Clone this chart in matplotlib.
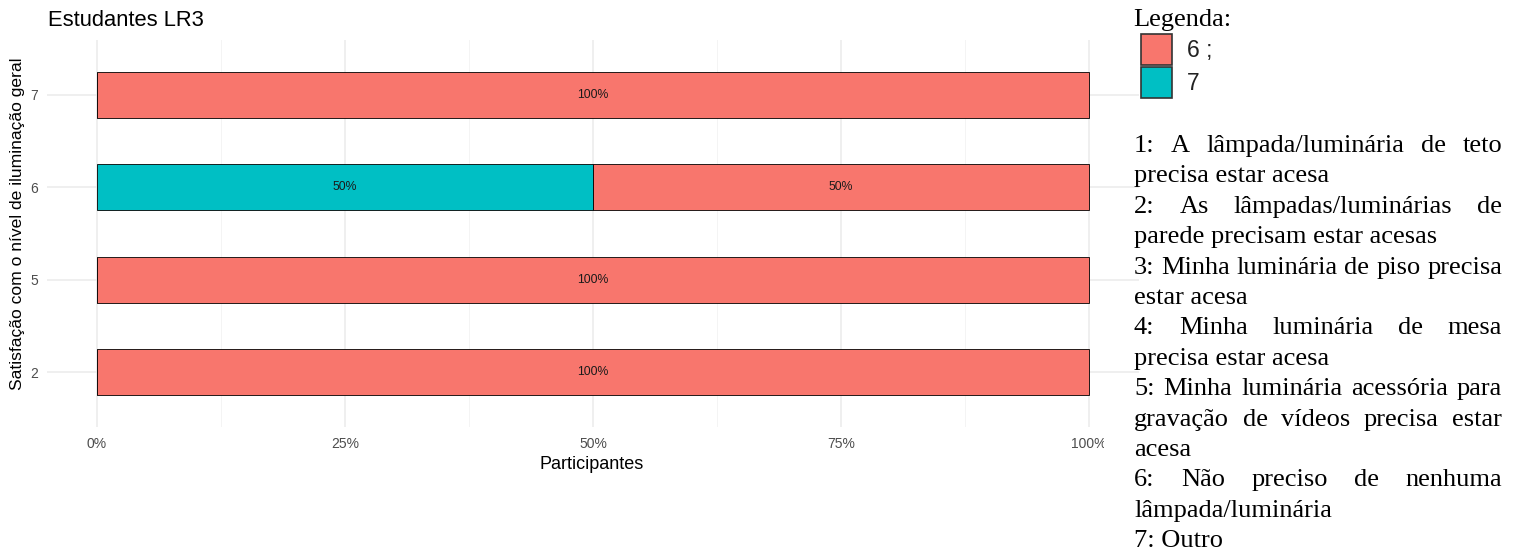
import numpy as np
import matplotlib.pyplot as plt
from matplotlib.patches import Rectangle
from matplotlib.transforms import Bbox

# data
categories = ['2', '5', '6', '7']
serie6 = [1.0, 1.0, 0.5, 1.0]   # "6 ;"
serie7 = [0.0, 0.0, 0.5, 0.0]   # "7"
legend_labels = ['6 ;', '7']
colors = ['#F8766D', '#00BFC4']
xticks = [0, 0.25, 0.5, 0.75, 1.0]
xtick_labels = ['0%', '25%', '50%', '75%', '100%']

notes = [
    ['1: A lâmpada/luminária de teto', 'precisa estar acesa'],
    ['2: As lâmpadas/luminárias de', 'parede precisam estar acesas'],
    ['3: Minha luminária de piso precisa', 'estar acesa'],
    ['4: Minha luminária de mesa', 'precisa estar acesa'],
    ['5: Minha luminária acessória para', 'gravação de vídeos precisa estar', 'acesa'],
    ['6: Não preciso de nenhuma', 'lâmpada/luminária'],
    ['7: Outro'],
]

W, H = 1515, 554
fig = plt.figure(figsize=(W / 100, H / 100), dpi=100)
sans = 'Liberation Sans'
serif = 'Liberation Serif'

def fx(px):
    return px / W

def fy(py):
    return 1 - py / H

# panel: 0% at px 97, 100% at px 1089; categories 1..4 from py 372 to 95
ax = fig.add_axes([fx(47.4), fy(427.4), fx(1138.6) - fx(47.4), fy(39.6) - fy(427.4)])
ax.set_xlim(-0.05, 1.05)
ax.set_ylim(0.4, 4.6)

ypos = np.arange(1, len(categories) + 1)
ax.barh(ypos, serie7, height=0.5, left=0, color=colors[1], edgecolor='black', linewidth=0.6, zorder=3)
ax.barh(ypos, serie6, height=0.5, left=serie7, color=colors[0], edgecolor='black', linewidth=0.6, zorder=3)

for i in range(len(categories)):
    left = 0
    for v in [serie7[i], serie6[i]]:
        if v > 0:
            ax.text(left + v / 2, ypos[i], '%d%%' % round(v * 100), ha='center', va='center',
                    fontsize=8.8, family=sans, color='#1A1A1A', zorder=4)
        left += v

# grid like theme_minimal
for x in xticks:
    ax.axvline(x, color='#EBEBEB', linewidth=1.1, zorder=0)
for x in [0.125, 0.375, 0.625, 0.875]:
    ax.axvline(x, color='#F2F2F2', linewidth=0.6, zorder=0)
for y in ypos:
    ax.axhline(y, color='#EBEBEB', linewidth=1.1, zorder=0)

for s in ax.spines.values():
    s.set_visible(False)
ax.set_xticks(xticks)
ax.set_xticklabels(xtick_labels, family=sans, fontsize=10, color='#4D4D4D')
ax.set_yticks(ypos)
ax.set_yticklabels(categories, family=sans, fontsize=10, color='#4D4D4D')
ax.tick_params(length=0)
ax.tick_params(axis='y', pad=6.5)
ax.tick_params(axis='x', pad=7)

# the 100% label is cut by the legend area in the reference
clip = Bbox.from_extents(0, 0, 1104, H)
for lab in ax.get_xticklabels():
    lab.set_clip_box(clip)
    lab.set_clip_on(True)

fig.text(fx(592), fy(469), 'Participantes', ha='center', va='baseline', fontsize=13, family=sans)
fig.text(fx(18), fy(224), 'Satisfação com o nível de iluminação geral', rotation=90,
         ha='center', va='center', fontsize=12.6, family=sans)
fig.text(fx(48), fy(26), 'Estudantes LR3', ha='left', va='baseline', fontsize=15.8, family=sans)

# legend
fig.text(fx(1133), fy(26), 'Legenda:', ha='left', va='baseline', fontsize=19, family=serif)
for k, (lab, c) in enumerate(zip(legend_labels, colors)):
    top = 34 + k * 33
    fig.patches.append(Rectangle((fx(1141), fy(top + 31)), fx(31), 31 / H, facecolor=c,
                                 edgecolor='#333333', linewidth=1.2, transform=fig.transFigure))
    fig.text(fx(1187), fy(top + 17), lab, ha='left', va='center', fontsize=16.5,
             family=sans, color='#222222')

# justified notes
fig.canvas.draw()
renderer = fig.canvas.get_renderer()
x0, x1 = 1134, 1502
base = 152
step = 30.4
n = 0
for para in notes:
    for j, line in enumerate(para):
        yb = base + n * step
        last = j == len(para) - 1
        if last:
            fig.text(fx(x0), fy(yb), line, ha='left', va='baseline', fontsize=19, family=serif)
        else:
            words = line.split()
            objs = [fig.text(0, fy(yb), w, ha='left', va='baseline', fontsize=19, family=serif)
                    for w in words]
            widths = [o.get_window_extent(renderer).width for o in objs]
            gap = (x1 - x0 - sum(widths)) / (len(words) - 1)
            cur = x0
            for o, w in zip(objs, widths):
                o.set_x(fx(cur))
                cur += w + gap
        n += 1

fig.savefig('out.png', dpi=100)
